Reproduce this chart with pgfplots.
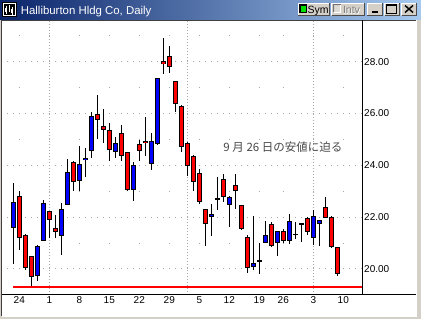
\documentclass[border=0pt]{standalone}
\usepackage{pgfplots}
\pgfplotsset{compat=1.18}
\usepackage{pgfplotstable}
\usepackage{fontspec}
\setmainfont{Liberation Sans}
\newfontfamily\cjk{Noto Sans CJK JP}
\definecolor{winGray}{HTML}{D4D0C8}
\definecolor{titleDark}{HTML}{0A246A}
\definecolor{titleLight}{HTML}{A6CAF0}
\definecolor{upBlue}{HTML}{0000FF}
\definecolor{dnRed}{HTML}{FF0000}
\definecolor{gridGray}{HTML}{A8A8A8}
\definecolor{annoGray}{HTML}{484848}
\definecolor{symGreen}{HTML}{00E000}

\pgfplotstableread{
i  O     H     L     C
1  21.58 23.33 20.18 22.58
2  22.81 22.99 20.72 21.19
3  21.31 21.35 19.95 20.04
4  20.50 20.50 19.33 19.69
5  19.73 20.94 19.53 20.88
6  21.08 22.67 21.06 22.54
7  22.23 22.23 21.19 21.90
8  21.59 22.09 21.18 21.42
9  21.29 22.54 20.53 22.32
10 22.46 24.23 22.46 23.74
11 24.12 24.17 22.99 23.37
12 23.38 24.74 22.99 24.04
13 24.19 24.67 23.56 24.28
14 24.54 26.04 24.29 25.92
15 25.96 26.71 25.03 25.73
16 25.50 26.19 24.87 25.35
17 25.35 25.65 24.18 24.59
18 24.50 25.08 24.29 24.85
19 25.23 25.54 24.18 24.35
20 24.50 24.50 23.00 23.04
21 23.04 24.12 22.64 24.00
22 24.81 24.97 24.15 24.54
23 24.93 25.86 24.34 24.85
24 24.05 25.24 23.83 24.93
25 24.84 27.38 24.79 27.36
26 28.01 28.90 27.51 27.92
27 28.22 28.60 27.58 27.78
28 27.26 27.26 26.07 26.36
29 26.28 26.32 24.51 24.70
30 24.85 24.88 23.57 23.97
31 24.35 24.39 23.00 23.35
32 23.70 23.85 22.51 22.58
33 22.33 22.33 20.90 21.72
34 22.01 22.50 21.28 22.14
35 22.70 23.56 22.27 22.70
36 23.49 23.68 22.59 22.76
37 22.45 22.83 21.63 22.76
38 23.23 23.68 22.33 22.99
39 22.45 22.46 21.50 21.55
40 21.24 21.31 19.86 20.03
41 20.09 22.04 19.96 20.24
42 20.31 21.00 19.80 20.31
43 21.00 21.87 21.00 21.31
44 21.73 21.81 20.85 20.87
45 21.00 21.47 20.51 21.46
46 21.46 21.55 20.99 21.08
47 21.08 22.13 20.97 21.85
48 21.33 21.81 21.17 21.33
49 21.74 21.77 21.04 21.74
50 21.96 21.99 21.32 21.42
51 21.19 22.28 20.94 22.03
52 21.73 21.90 20.87 21.90
53 22.38 22.79 21.97 21.97
54 22.00 22.03 20.81 20.83
55 20.85 20.86 19.74 19.81
}\candles

\newcommand{\winbtn}[4]{%
  \fill[winGray] (#1,#2) rectangle (#3,#4);
  \draw[white, line width=1pt] (#1+0.5,#4-0.5) -- (#1+0.5,#2+0.5) -- (#3-0.5,#2+0.5);
  \draw[black!70, line width=1pt] (#1+0.5,#4-0.5) -- (#3-0.5,#4-0.5) -- (#3-0.5,#2+0.5);}

\begin{document}
\begin{tikzpicture}
\fill[winGray] (0,0) rectangle (421pt,319pt);
\begin{scope}[x=1pt,y=-1pt,shift={(0pt,319pt)}]
  \fill[white] (1.5,20.5) rectangle (416,316);
  \draw[black!75, line width=1pt] (1.5,316) -- (1.5,20.5) -- (416,20.5);
  \draw[white, line width=1pt] (416.5,20.5) -- (416.5,316.5) -- (1.5,316.5);
\end{scope}

\begin{axis}[
  at={(2pt,24.1pt)}, anchor=south west,
  scale only axis, width=360pt, height=274pt,
  xmin=-0.883, xmax=59.117, ymin=19.0, ymax=29.571,
  axis line style={draw=none},
  major tick length=0pt,
  xtick={2,7,12,17,22,27,32,37,42,46,51,56},
  xticklabels={24,1,8,15,22,29,5,12,19,26,3,10},
  ytick={20,22,24,26,28},
  grid=major,
  major y grid style={gridGray, line width=1pt, dash pattern=on 1pt off 5pt, dash phase=1.2pt},
  major x grid style={gridGray, line width=1pt, dash pattern=on 1pt off 24.92pt, dash phase=0.5pt},
  extra x ticks={7,30,51},
  extra x tick labels={},
  extra x tick style={grid=major, major tick length=0pt,
    major x grid style={gridGray, line width=1pt, dash pattern=on 1pt off 2pt, dash phase=0pt}},
  /pgf/number format/assume math mode=true,
  yticklabel pos=right,
  yticklabel={\pgfmathprintnumber[fixed,fixed zerofill,precision=2]{\tick}},
  yticklabel style={anchor=west, inner sep=0pt, xshift=2pt, font=\fontsize{10}{12}\selectfont},
  xticklabel style={anchor=base, inner sep=0pt, yshift=-9.1pt, font=\fontsize{10}{12}\selectfont},
  candle/.style={draw=none, mark=none, forget plot,
    error bars/.cd, y dir=both, y explicit, error mark=none},
]
\addplot[dnRed, line width=2pt, forget plot] coordinates {(1,19.30) (59.117,19.30)};
% wicks
\addplot[candle, error bar style={draw=black, line width=1pt, solid}]
  table[x=i, y expr={(\thisrow{H}+\thisrow{L})/2}, y error expr={(\thisrow{H}-\thisrow{L})/2}] {\candles};
% body outlines
\addplot[candle, error bar style={draw=black, line width=5pt, solid}]
  table[x=i, y expr={(\thisrow{O}+\thisrow{C})/2}, y error expr={max(abs(\thisrow{C}-\thisrow{O})/2,0.0193)}] {\candles};
% up bodies
\addplot[candle, error bar style={draw=upBlue, line width=3pt, solid}]
  table[x=i, y expr={\thisrow{C}>\thisrow{O} ? (\thisrow{O}+\thisrow{C})/2 : 0}, y error expr={max(abs(\thisrow{C}-\thisrow{O})/2-0.0386,0)}] {\candles};
% down bodies
\addplot[candle, error bar style={draw=dnRed, line width=3pt, solid}]
  table[x=i, y expr={\thisrow{C}<\thisrow{O} ? (\thisrow{O}+\thisrow{C})/2 : 0}, y error expr={max(abs(\thisrow{C}-\thisrow{O})/2-0.0386,0)}] {\candles};

\node[anchor=west, inner sep=0pt, text=annoGray, font=\cjk\fontsize{11.5}{12}\selectfont] at (axis cs:36.0,24.69) {9 月 26 日の安値に迫る};
\node[anchor=base west, inner sep=0pt, font=\fontsize{10}{12}\selectfont] at (axis cs:7,19.0) [yshift=-17.8pt] {Oct};
\node[anchor=base west, inner sep=0pt, font=\fontsize{10}{12}\selectfont] at (axis cs:30,19.0) [yshift=-17.8pt] {Nov};
\node[anchor=base west, inner sep=0pt, font=\fontsize{10}{12}\selectfont] at (axis cs:51,19.0) [yshift=-17.8pt] {Dec};
\end{axis}

\begin{scope}[x=1pt,y=-1pt,shift={(0pt,319pt)}]
  % axis lines
  \draw[black, line width=1pt] (362,20.5) -- (362,294.9);
  \draw[black, line width=1pt] (1.5,294.9) -- (416,294.9);
  % title bar
  \shade[left color=titleDark, right color=titleLight] (0,0) rectangle (421,19.5);
  % icon
  \fill[black] (2,2) rectangle (17,17);
  \fill[white] (3,3) rectangle (16,16);
  \fill[black] (4,4) rectangle (15,15);
  \draw[white, line width=1pt] (6,6) -- (6,14) (9,5) -- (9,12) (12,7) -- (12,15);
  \fill[white] (5,8) rectangle (7,12);
  \fill[white] (11,9) rectangle (13,13);
  \node[anchor=base west, inner sep=0pt, text=white, font=\fontsize{11.4}{12}\selectfont] at (20.7,14.6) {Halliburton Hldg Co, Daily};
  % Sym button
  \winbtn{297.5}{3}{330}{16}
  \fill[black] (299,4.5) rectangle (307,13.5);
  \fill[symGreen] (300.5,6) rectangle (305.5,12);
  \node[anchor=base west, inner sep=0pt, font=\fontsize{10.5}{12}\selectfont] at (307.5,13.6) {Sym};
  % Intv button
  \winbtn{331}{3}{364.5}{16}
  \draw[black!55, line width=1pt] (333.5,12.5) -- (333.5,5) -- (340.5,5);
  \draw[white, line width=1pt] (333.5,13) -- (340.5,13) -- (340.5,5);
  \fill[winGray!80!white] (334.5,6) rectangle (339.5,12);
  \node[anchor=base west, inner sep=0pt, text=white, font=\fontsize{10.5}{12}\selectfont] at (343.5,14.1) {Intv};
  \node[anchor=base west, inner sep=0pt, text=black!50, font=\fontsize{10.5}{12}\selectfont] at (342.8,13.6) {Intv};
  % minimize
  \winbtn{366.5}{3}{382.5}{16}
  \fill[black] (371.5,11.5) rectangle (377.5,13.5);
  % maximize
  \winbtn{384}{3}{399.5}{16}
  \draw[black, line width=1pt] (386.5,5) rectangle (396.5,13.5);
  \draw[black, line width=1pt] (386.5,5.8) -- (396.5,5.8);
  % close
  \winbtn{401}{3}{417}{16}
  \draw[black, line width=1.5pt] (405,5.5) -- (413,12.5) (413,5.5) -- (405,12.5);
\end{scope}
\pgfresetboundingbox
\path[use as bounding box] (0,0) rectangle (421pt,319pt);
\end{tikzpicture}
\end{document}
